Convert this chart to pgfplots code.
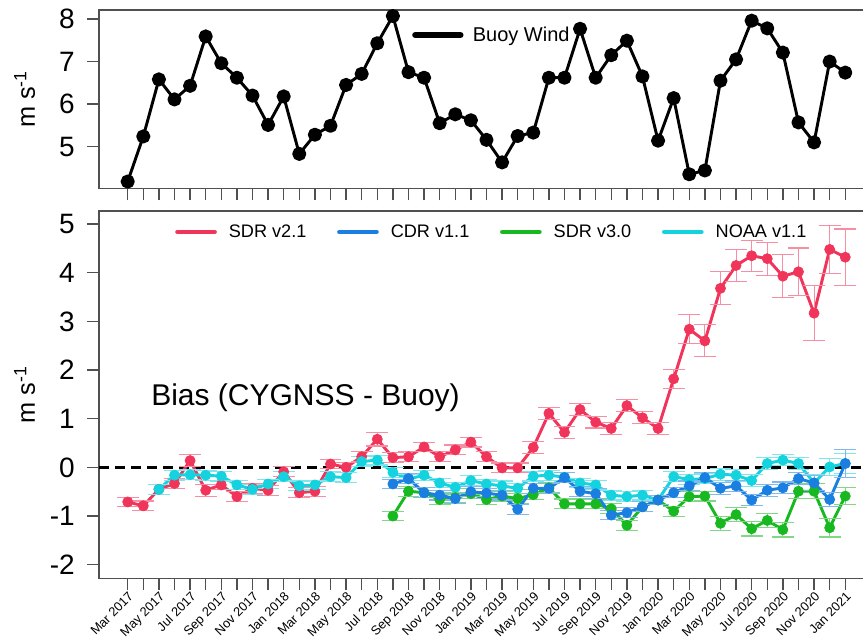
\documentclass[border=0pt]{standalone}
\usepackage{pgfplots}
\pgfplotsset{compat=1.18}
\usepackage{fontspec}
\setmainfont{Liberation Sans}
\definecolor{cred}{HTML}{F0345A}
\definecolor{cblue}{HTML}{1A7FE0}
\definecolor{cgreen}{HTML}{18B820}
\definecolor{ccyan}{HTML}{14D2DE}
\definecolor{caxis}{HTML}{505050}

\pgfplotstableread{
i v
0 4.18
1 5.24
2 6.58
3 6.11
4 6.43
5 7.59
6 6.96
7 6.62
8 6.20
9 5.51
10 6.18
11 4.83
12 5.28
13 5.49
14 6.45
15 6.71
16 7.43
17 8.07
18 6.75
19 6.62
20 5.55
21 5.76
22 5.62
23 5.16
24 4.63
25 5.25
26 5.33
27 6.62
28 6.62
29 7.77
30 6.62
31 7.15
32 7.49
33 6.65
34 5.14
35 6.14
36 4.35
37 4.44
38 6.55
39 7.05
40 7.96
41 7.78
42 7.21
43 5.57
44 5.10
45 7.00
46 6.74
}\buoy

\pgfplotstableread{
i v e
0 -0.71 0.10
1 -0.79 0.10
2 -0.45 0.10
3 -0.33 0.10
4 0.14 0.12
5 -0.47 0.12
6 -0.36 0.10
7 -0.60 0.10
8 -0.43 0.10
9 -0.47 0.10
10 -0.09 0.10
11 -0.52 0.10
12 -0.49 0.10
13 0.07 0.10
14 0.00 0.10
15 0.22 0.10
16 0.58 0.14
17 0.20 0.10
18 0.22 0.10
19 0.42 0.10
20 0.22 0.10
21 0.36 0.10
22 0.52 0.10
23 0.22 0.10
24 -0.01 0.10
25 -0.01 0.10
26 0.41 0.12
27 1.11 0.12
28 0.72 0.12
29 1.19 0.12
30 0.93 0.12
31 0.80 0.12
32 1.27 0.12
33 1.02 0.12
34 0.80 0.12
35 1.82 0.20
36 2.84 0.30
37 2.60 0.33
38 3.68 0.34
39 4.15 0.32
40 4.35 0.32
41 4.29 0.34
42 3.93 0.44
43 4.02 0.49
44 3.17 0.56
45 4.48 0.50
46 4.32 0.58
}\sdrtwo

\pgfplotstableread{
i v e
2 -0.45 0.10
3 -0.16 0.10
4 -0.15 0.10
5 -0.16 0.10
6 -0.18 0.10
7 -0.36 0.10
8 -0.45 0.10
9 -0.34 0.10
10 -0.19 0.10
11 -0.38 0.10
12 -0.36 0.10
13 -0.19 0.10
14 -0.21 0.10
15 0.12 0.10
16 0.15 0.10
17 -0.10 0.10
18 -0.24 0.10
19 -0.16 0.10
20 -0.32 0.10
21 -0.41 0.10
22 -0.27 0.10
23 -0.34 0.10
24 -0.38 0.10
25 -0.43 0.10
26 -0.18 0.10
27 -0.16 0.10
28 -0.20 0.10
29 -0.32 0.10
30 -0.36 0.10
31 -0.57 0.10
32 -0.60 0.10
33 -0.57 0.10
34 -0.67 0.10
35 -0.19 0.10
36 -0.25 0.10
37 -0.23 0.10
38 -0.14 0.12
39 -0.16 0.12
40 -0.27 0.12
41 0.08 0.12
42 0.15 0.12
43 0.08 0.12
44 -0.32 0.18
45 0.01 0.18
46 0.08 0.20
}\noaa

\pgfplotstableread{
i v e
17 -0.34 0.10
18 -0.23 0.10
19 -0.52 0.10
20 -0.57 0.10
21 -0.64 0.10
22 -0.50 0.10
23 -0.53 0.10
24 -0.57 0.10
25 -0.86 0.10
26 -0.43 0.10
27 -0.43 0.10
28 -0.21 0.10
29 -0.49 0.10
30 -0.54 0.10
31 -0.98 0.10
32 -0.93 0.10
33 -0.81 0.10
34 -0.67 0.10
35 -0.52 0.10
36 -0.38 0.10
37 -0.21 0.10
38 -0.43 0.12
39 -0.38 0.12
40 -0.67 0.12
41 -0.47 0.12
42 -0.42 0.12
43 -0.23 0.12
44 -0.32 0.15
45 -0.66 0.15
46 0.08 0.28
}\cdr

\pgfplotstableread{
i v e
17 -1.00 0.10
18 -0.49 0.10
19 -0.52 0.10
20 -0.66 0.10
21 -0.62 0.10
22 -0.54 0.10
23 -0.66 0.10
24 -0.59 0.10
25 -0.64 0.10
26 -0.56 0.10
27 -0.42 0.10
28 -0.75 0.10
29 -0.75 0.10
30 -0.75 0.10
31 -0.85 0.10
32 -1.19 0.10
33 -0.81 0.10
34 -0.67 0.10
35 -0.90 0.10
36 -0.60 0.10
37 -0.59 0.10
38 -1.15 0.15
39 -0.97 0.15
40 -1.26 0.15
41 -1.09 0.15
42 -1.28 0.15
43 -0.49 0.15
44 -0.49 0.15
45 -1.24 0.19
46 -0.59 0.18
}\sdrthree

\pgfplotsset{
  common/.style={
    scale only axis,
    width=575.25pt,
    xmin=-1.84, xmax=47.33,
    axis line style={line width=1pt, caxis},
    tick style={line width=1pt, caxis},
    tick align=outside,
    major tick length=9pt, minor tick length=9pt,
    xtick pos=bottom, ytick pos=left,
    yticklabel style={font=\fontsize{21}{23}\selectfont, inner sep=0pt, xshift=-9pt},
    every axis y label/.style={at={(axis description cs:-0.097,0.5)}, rotate=90, anchor=center, font=\fontsize{19}{22}\selectfont},
    ylabel={m s\textsuperscript{-1}},
  },
  ser/.style={forget plot, #1, line width=2.2pt, line join=round, mark=*, mark size=3.8pt,
    mark options={solid, fill=#1, draw=#1, line width=0.5pt},
    error bars/.cd, y dir=both, y explicit,
    error bar style={line width=0.8pt, #1!55!white},
    error mark options={#1!55!white, line width=0.8pt, mark size=8.2pt, rotate=90},
    /pgfplots/.cd},
}

\begin{document}
\begin{tikzpicture}
\path[use as bounding box] (0pt,0pt) rectangle (647.25pt,477.75pt);

% top panel
\begin{axis}[common,
  at={(74.25pt,336.5pt)}, anchor=south west,
  height=133.7pt,
  ymin=4.02, ymax=8.21,
  ytick={5,6,7,8}, yticklabels={5,6,7,8},
  xtick={0,...,46}, xticklabels={},
  legend style={at={(axis description cs:0.408,0.86)}, anchor=west, draw=none, fill=none,
    inner sep=0pt, nodes={inner sep=0pt}, font=\fontsize{15}{17}\selectfont,
    /tikz/every odd column/.append style={column sep=7pt}},
  legend image code/.code={\draw[line width=4.5pt, line cap=round] (0pt,0pt) -- (34pt,0pt);},
]
\addplot[black, line width=2.2pt, line join=round, mark=*, mark size=4.2pt] table[x=i,y=v] {\buoy};
\addlegendentry{Buoy Wind}
\end{axis}

% bottom panel
\begin{axis}[common,
  at={(74.25pt,44pt)}, anchor=south west,
  height=275.5pt,
  ymin=-2.28, ymax=5.27,
  ytick={-2,-1,0,1,2,3,4,5}, yticklabels={-2,-1,0,1,2,3,4,5},
  xtick={0,2,...,46},
  minor xtick={1,3,...,45},
  xticklabels={Mar 2017,May 2017,Jul 2017,Sep 2017,Nov 2017,Jan 2018,Mar 2018,May 2018,Jul 2018,Sep 2018,Nov 2018,Jan 2019,Mar 2019,May 2019,Jul 2019,Sep 2019,Nov 2019,Jan 2020,Mar 2020,May 2020,Jul 2020,Sep 2020,Nov 2020,Jan 2021},
  xticklabel style={font=\fontsize{9.6}{11}\selectfont, rotate=45, anchor=north east, inner sep=0.3pt},
  legend style={at={(axis description cs:0.099,0.943)}, anchor=west, draw=none, fill=none,
    legend columns=4, inner sep=0pt, nodes={inner sep=0pt}, font=\fontsize{13.6}{16}\selectfont,
    /tikz/every odd column/.append style={column sep=9pt},
    /tikz/every even column/.append style={column sep=23pt}},
  legend image code/.code={\draw[line width=3.5pt, line cap=round] (0pt,0pt) -- (27.75pt,0pt);},
]
\addlegendimage{cred}\addlegendentry{SDR v2.1}
\addlegendimage{cblue}\addlegendentry{CDR v1.1}
\addlegendimage{cgreen}\addlegendentry{SDR v3.0}
\addlegendimage{ccyan}\addlegendentry{NOAA v1.1}

\addplot[black, line width=2pt, dash pattern=on 7.5pt off 4.5pt, forget plot] coordinates {(-1.84,0) (47.33,0)};

\addplot[ser=cred] table[x=i,y=v,y error=e] {\sdrtwo};
\addplot[ser=ccyan] table[x=i,y=v,y error=e] {\noaa};
\addplot[ser=cgreen] table[x=i,y=v,y error=e] {\sdrthree};
\addplot[ser=cblue] table[x=i,y=v,y error=e] {\cdr};

\node[font=\fontsize{22.5}{25}\selectfont] at (axis cs:11.4,1.43) {Bias (CYGNSS - Buoy)};
\end{axis}
\end{tikzpicture}
\end{document}
